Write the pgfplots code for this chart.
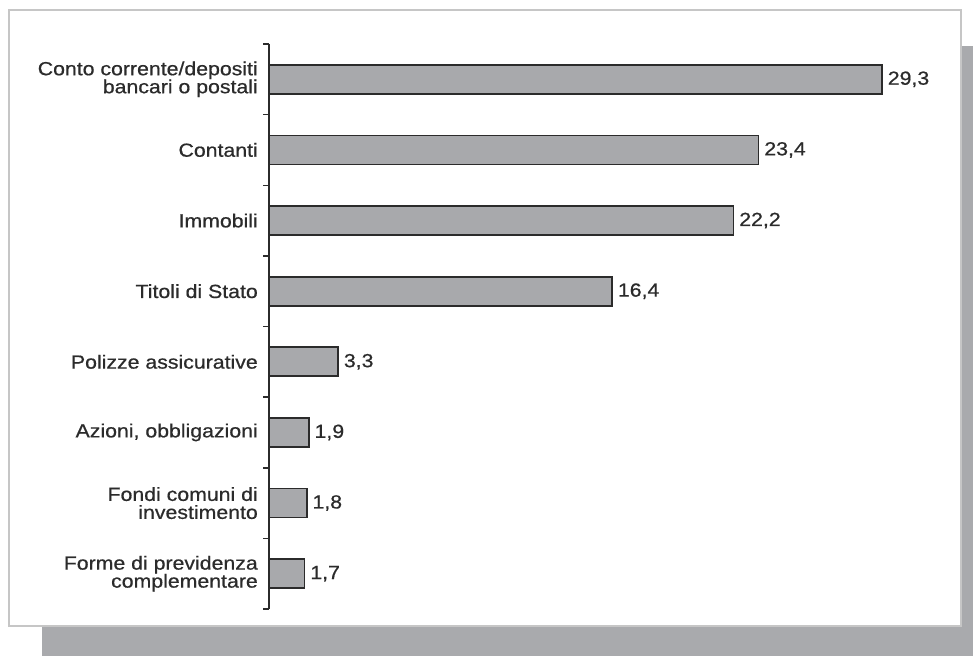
\documentclass[border=0pt]{standalone}
\usepackage{pgfplots}
\pgfplotsset{compat=1.18}
\usepackage{fontspec}
\setmainfont[FakeStretch=1.12, FakeBold=0.6]{Liberation Sans}
\definecolor{barfill}{HTML}{A8A9AC}
\definecolor{ink}{HTML}{2B2B2B}
\definecolor{shadowgray}{HTML}{A9AAAD}
\definecolor{framegray}{HTML}{C6C6C6}
\newcommand{\labelfont}{\fontsize{19pt}{18pt}\selectfont}
\begin{document}
\labelfont
\begin{tikzpicture}[x=1pt,y=1pt]
\useasboundingbox (0,0) rectangle (973,656);
% drop shadow and white panel
\fill[shadowgray] (42,0) rectangle (973,610);
\filldraw[fill=white, draw=framegray, line width=1.5pt] (9,30) rectangle (961,646);
\begin{axis}[
  at={(269pt,47pt)}, anchor=south west,
  x=20.92pt, y=70.625pt,
  xmin=0, xmax=32, ymin=-0.5, ymax=7.5,
  y dir=reverse,
  clip=false,
  hide x axis,
  axis y line*=left,
  axis line style={draw=ink, line width=1.6pt},
  xbar, bar width=29pt,
  ytick={0,...,7},
  yticklabels={
    {Conto corrente/depositi\\bancari o postali},
    {Contanti},
    {Immobili},
    {Titoli di Stato},
    {Polizze assicurative},
    {Azioni, obbligazioni},
    {Fondi comuni di\\investimento},
    {Forme di previdenza\\complementare}},
  minor ytick={-0.5,0.5,...,7.5},
  major tick length=0pt,
  minor tick length=6pt,
  tick align=outside,
  ytick pos=left,
  minor tick style={draw=ink, line width=1.5pt},
  yticklabel style={align=right, inner sep=0pt, xshift=-11pt,
    font=\labelfont, text=ink},
  nodes near coords,
  every node near coord/.append style={anchor=west, inner sep=0pt,
    xshift=5pt, font=\labelfont, text=ink},
  /pgf/number format/.cd, use comma, fixed, fixed zerofill, precision=1,
    assume math mode=true,
]
\addplot[fill=barfill, draw=ink, line width=1.7pt] coordinates {
  (29.3,0) (23.4,1) (22.2,2) (16.4,3) (3.3,4) (1.9,5) (1.8,6) (1.7,7)};
\end{axis}
\end{tikzpicture}
\end{document}
